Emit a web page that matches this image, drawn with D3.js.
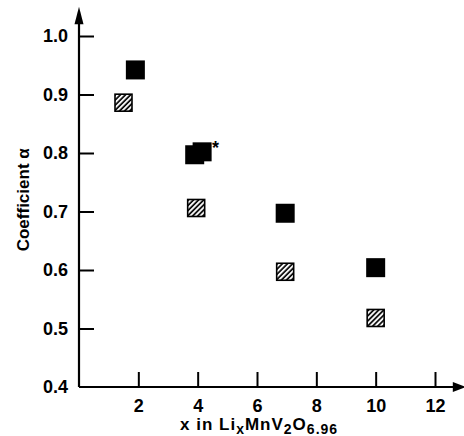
<!DOCTYPE html>
<html>
<head>
<meta charset="utf-8">
<script src="https://cdn.jsdelivr.net/npm/d3@7"></script>
<style>
  html, body { margin: 0; padding: 0; background: #fff; }
  text { font-family: "Liberation Sans", Arial, sans-serif; font-weight: bold; }
</style>
</head>
<body>
<div id="chart"></div>
<script>
// data
const filledX = [1.9, 3.9, 4.15, 6.95, 10.0];
const filledY = [0.942, 0.797, 0.802, 0.697, 0.604];
const starred = [false, false, true, false, false];
const hatchX = [1.5, 3.95, 6.95, 10.0];
const hatchY = [0.886, 0.706, 0.597, 0.518];
const xTicks = [2, 4, 6, 8, 10, 12];
const yTicks = [0.4, 0.5, 0.6, 0.7, 0.8, 0.9, 1.0];

const width = 464, height = 436;

const x = d3.scaleLinear().domain([0, 12]).range([79, 435]);
const y = d3.scaleLinear().domain([0.4, 1.0]).range([387, 36]);

const svg = d3.select("#chart").append("svg")
    .attr("width", width)
    .attr("height", height);

// hatch pattern
svg.append("defs").append("pattern")
    .attr("id", "hatch")
    .attr("patternUnits", "userSpaceOnUse")
    .attr("width", 3.6)
    .attr("height", 3.6)
    .attr("patternTransform", "rotate(45)")
  .append("line")
    .attr("x1", 1).attr("y1", 0)
    .attr("x2", 1).attr("y2", 3.6)
    .attr("stroke", "#000")
    .attr("stroke-width", 1.7);

// y axis
const yAxis = svg.append("g")
    .attr("transform", `translate(${x(0)},0)`)
    .call(d3.axisLeft(y).tickValues(yTicks).tickFormat(d3.format(".1f"))
        .tickSizeInner(-15).tickSizeOuter(0).tickPadding(11));
yAxis.select(".domain").remove();
yAxis.selectAll(".tick line").attr("stroke-width", 2)
    .filter(d => d === 0.4).remove();
yAxis.selectAll(".tick text")
    .style("font-size", "18px").style("font-family", null).attr("fill", "#000");

// x axis
const xAxis = svg.append("g")
    .attr("transform", `translate(0,${y(0.4)})`)
    .call(d3.axisBottom(x).tickValues(xTicks)
        .tickSizeInner(-15).tickSizeOuter(0).tickPadding(12));
xAxis.select(".domain").remove();
xAxis.selectAll(".tick line").attr("stroke-width", 2);
xAxis.selectAll(".tick text")
    .style("font-size", "18px").style("font-family", null).attr("fill", "#000");

// axis lines with arrows
svg.append("line")
    .attr("x1", x(0)).attr("y1", y(0.4))
    .attr("x2", x(0)).attr("y2", y(1.035))
    .attr("stroke", "#000").attr("stroke-width", 2.2);
svg.append("path")
    .attr("d", `M${x(0)},${y(1.05)} L${x(0) - 4.5},${y(1.02)} L${x(0) + 4.5},${y(1.02)} Z`)
    .attr("fill", "#000");

svg.append("line")
    .attr("x1", x(0)).attr("y1", y(0.4))
    .attr("x2", x(12.75)).attr("y2", y(0.4))
    .attr("stroke", "#000").attr("stroke-width", 2.2);
svg.append("path")
    .attr("d", `M${x(13.05)},${y(0.4)} L${x(12.6)},${y(0.4) - 5} L${x(12.6)},${y(0.4) + 5} Z`)
    .attr("fill", "#000");

// hatched squares
const hs = 17;
svg.append("g").selectAll("rect")
    .data(hatchX.map((v, i) => [v, hatchY[i]]))
    .join("rect")
    .attr("x", d => x(d[0]) - hs / 2)
    .attr("y", d => y(d[1]) - hs / 2)
    .attr("width", hs).attr("height", hs)
    .attr("fill", "url(#hatch)")
    .attr("stroke", "#000").attr("stroke-width", 1.6);

// filled squares
const fs = 19;
const filled = filledX.map((v, i) => [v, filledY[i], starred[i]]);
svg.append("g").selectAll("rect")
    .data(filled)
    .join("rect")
    .attr("x", d => x(d[0]) - fs / 2)
    .attr("y", d => y(d[1]) - fs / 2)
    .attr("width", fs).attr("height", fs)
    .attr("fill", "#000");

svg.append("g").selectAll("text")
    .data(filled.filter(d => d[2]))
    .join("text")
    .attr("x", d => x(d[0]) + 10)
    .attr("y", d => y(d[1]) + 2)
    .style("font-size", "18px")
    .text("*");

// axis titles
svg.append("text")
    .attr("transform", `translate(29,${y(0.72)}) rotate(-90)`)
    .attr("text-anchor", "middle")
    .style("font-size", "17px")
    .text("Coefficient α");

const xt = svg.append("text")
    .attr("x", 180).attr("y", 430)
    .style("font-size", "17px")
    .style("letter-spacing", "1px");
xt.append("tspan").text("x in Li");
xt.append("tspan").attr("dy", 4).style("font-size", "14px").text("x");
xt.append("tspan").attr("dy", -4).text("MnV");
xt.append("tspan").attr("dy", 4).style("font-size", "14px").text("2");
xt.append("tspan").attr("dy", -4).text("O");
xt.append("tspan").attr("dy", 4).style("font-size", "14px").text("6.96");
</script>
</body>
</html>
